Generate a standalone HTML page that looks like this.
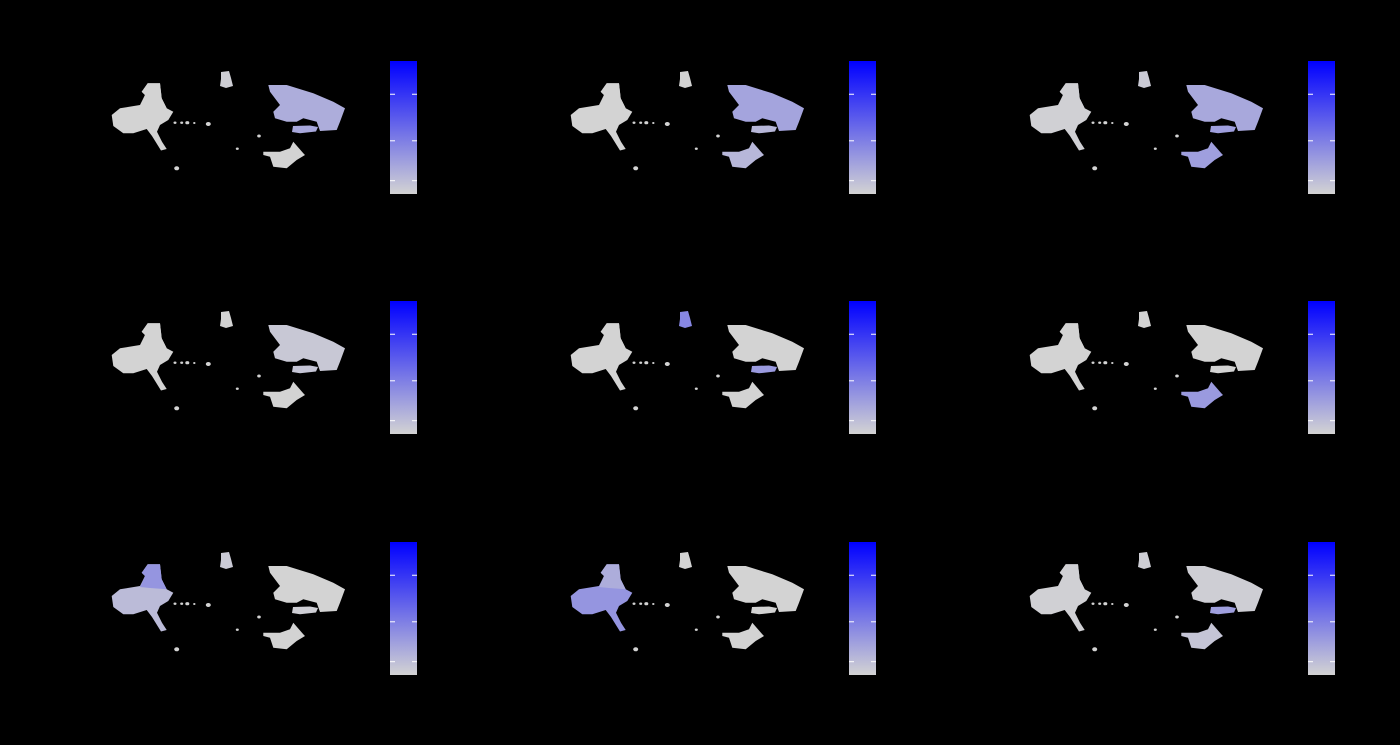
<!DOCTYPE html>
<html><head><meta charset="utf-8"><style>
html,body{margin:0;padding:0;background:#000;width:1400px;height:745px;overflow:hidden}
svg{display:block}
</style></head><body>
<svg id="fig" width="1400" height="745" viewBox="0 0 1400 745" xmlns="http://www.w3.org/2000/svg">
<defs>
<linearGradient id="cb" x1="0" y1="1" x2="0" y2="0">
<stop offset="0" stop-color="#d3d3d3"/><stop offset="1" stop-color="#0000ff"/>
</linearGradient>
</defs>
<rect width="1400" height="745" fill="#000"/>
</svg>
<script>
// Panel expression intensities per cluster region (0..1)
const panelNames = ['gene-1','gene-2','gene-3','gene-4','gene-5','gene-6','gene-7','gene-8','gene-9'];
const intensR  = [0.40,0.50,0.45,0.12,0.00,0.00,0.00,0.00,0.05];
const intensRL = [0.45,0.30,0.55,0.15,0.60,0.00,0.05,0.00,0.55];
const intensB  = [0.00,0.30,0.55,0.00,0.00,0.60,0.00,0.00,0.15];
const intensT  = [0.05,0.00,0.10,0.00,0.80,0.00,0.10,0.00,0.05];
const intensL  = [0.00,0.00,0.03,0.00,0.00,0.00,0.25,0.65,0.03];
const intensH  = [0.00,0.00,0.03,0.00,0.00,0.00,0.65,0.40,0.03];

const shapes = {
 L:"147.7,83.3 160,83.3 161.7,98.3 166.7,108.3 173.3,111.7 168.3,120 160,125 157,131.7 162,141.7 166.7,149 161,150.5 152,136 146.7,129 133.3,133.3 123.3,133.3 113.3,126 111.7,115 120,108.3 140,105 145,95 141.7,91.7",
 H:"147.7,83.3 160,83.3 161.7,98.3 166.7,108.3 150,107 140,106 145,95 141.7,91.7",
 T:"221,72 229,71 231,78 233,86 226,88 220,86 221,79",
 R:"268.3,85 286.7,85 313.3,93.3 333.3,101.7 345,108.3 340,121.7 336.7,130 320,131 316.7,121.7 303.3,118.3 296.7,121.7 286.7,121.7 275,118.3 273.3,111.7 280,105 270,91.7",
 RL:"293,126 310,125.5 318,127 316,131.5 300,133.3 292,132",
 B:"293.3,141.7 303.3,153.3 305,155 296.7,160 286.7,168.3 273.3,166.7 270,156.7 263.3,155 263.3,151.7 280,151.7 290,148.3"
};
const dots = [[175,122.7,1.5],[181.7,122.7,1.5],[187.3,122.7,2],[194.3,123,1.2],[208.3,124,2.5],[259,136,1.8],[237.3,148.7,1.5],[176.7,168.3,2.5]];
const colOff=[0,459,918], rowOff=[0,240,481];
const svg=document.getElementById('fig');
const NS='http://www.w3.org/2000/svg';
function col(t){const a=[211,211,211],b=[0,0,255];return 'rgb('+a.map((v,i)=>Math.round(v+(b[i]-v)*t)).join(',')+')';}
function poly(g,pts,fill,name){const p=document.createElementNS(NS,'polygon');p.setAttribute('points',pts);p.setAttribute('fill',fill);


g.appendChild(p);}
const F=0.45;
for(let k=0;k<9;k++){
 const g=document.createElementNS(NS,'g');
 g.setAttribute('transform','translate('+colOff[k%3]+','+rowOff[Math.floor(k/3)]+')');
 
 
 poly(g,shapes.L,col(intensL[k]*F),'cluster-left');
 poly(g,shapes.H,col(intensH[k]*F),'cluster-left-top');
 poly(g,shapes.T,col(intensT[k]*F),'cluster-top-small');
 poly(g,shapes.R,col(intensR[k]*F),'cluster-right');
 poly(g,shapes.RL,col(intensRL[k]*F),'cluster-right-lower');
 poly(g,shapes.B,col(intensB[k]*F),'cluster-bottom');
 dots.forEach(d=>{const c=document.createElementNS(NS,'ellipse');c.setAttribute('cx',d[0]);c.setAttribute('cy',d[1]);c.setAttribute('rx',d[2]);c.setAttribute('ry',d[2]*0.8);c.setAttribute('fill','#d3d3d3');
  
  
  g.appendChild(c);});
 const r=document.createElementNS(NS,'rect');r.setAttribute('x',390);r.setAttribute('y',61);r.setAttribute('width',27);r.setAttribute('height',133);r.setAttribute('fill','url(#cb)');
 
 
 g.appendChild(r);
 [0.1,0.4,0.75].forEach(f=>{[390,412].forEach(x=>{const l=document.createElementNS(NS,'line');l.setAttribute('x1',x);l.setAttribute('x2',x+5);l.setAttribute('y1',194-133*f);l.setAttribute('y2',194-133*f);l.setAttribute('stroke','#fff');l.setAttribute('stroke-width','1');
  
  
  g.appendChild(l);});});
 svg.appendChild(g);
}
</script>
</body></html>
